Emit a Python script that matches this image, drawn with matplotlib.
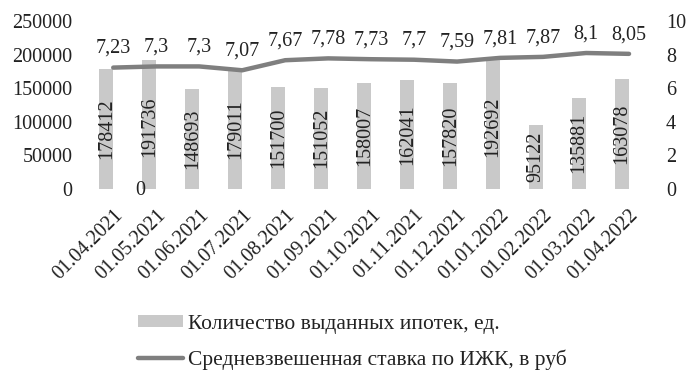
import matplotlib
matplotlib.use("Agg")
import matplotlib.pyplot as plt
import numpy as np

dates = ["01.04.2021", "01.05.2021", "01.06.2021", "01.07.2021", "01.08.2021",
         "01.09.2021", "01.10.2021", "01.11.2021", "01.12.2021", "01.01.2022",
         "01.02.2022", "01.03.2022", "01.04.2022"]
mortgages = [178412, 191736, 148693, 179011, 151700, 151052, 158007,
             162041, 157820, 192692, 95122, 135881, 163078]
rates = [7.23, 7.3, 7.3, 7.07, 7.67, 7.78, 7.73, 7.7, 7.59, 7.81, 7.87, 8.1, 8.05]
rate_labels = ["7,23", "7,3", "7,3", "7,07", "7,67", "7,78", "7,73", "7,7",
               "7,59", "7,81", "7,87", "8,1", "8,05"]

plt.rcParams['font.family'] = ['Liberation Serif', 'DejaVu Serif']
FS = 14.5
LFS = 15.5
bar_color = "#c9c9c9"
line_color = "#7f7f7f"

fig = plt.figure(figsize=(6.95, 3.71), dpi=100)
ax = fig.add_axes([0.132, 0.491, 0.804, 0.452])
ax2 = ax.twinx()

x = np.arange(len(dates))
bw = 0.32
bars = ax.bar(x - bw / 2, mortgages, width=bw, color=bar_color,
              label="Количество выданных ипотек, ед.", zorder=1)
for xi, v in zip(x, mortgages):
    ax.text(xi - bw / 2, min(v * 0.5, 92000), str(v), rotation=90,
            ha="center", va="center", fontsize=FS, color="#222222")
ax.text(0.63, -3000, "0", ha="center", va="center", fontsize=FS, color="#222222")

ax.set_ylim(0, 250000)
ax.set_xlim(-0.5, len(dates) - 0.5)
ax.set_yticks(np.arange(0, 250001, 50000))
ax.set_xticks(x)
ax.set_xticklabels(dates, rotation=45, ha="right", rotation_mode="anchor")
ax.tick_params(axis="both", length=0, labelsize=FS, colors="#222222")
ax.tick_params(axis="y", pad=14)
ax.tick_params(axis="x", pad=12)

line, = ax2.plot(x, rates, color=line_color, lw=3.2, solid_capstyle="round",
                 label="Средневзвешенная ставка по ИЖК, в руб", zorder=3)
for xi, r, lab in zip(x, rates, rate_labels):
    ax2.annotate(lab, (xi, r), xytext=(0, 7), textcoords="offset points",
                 ha="center", va="bottom", fontsize=FS, color="#222222")
ax2.set_ylim(0, 10)
ax2.set_yticks(np.arange(0, 11, 2))
ax2.tick_params(axis="y", length=0, labelsize=FS, colors="#222222", pad=11)

for a in (ax, ax2):
    for s in a.spines.values():
        s.set_visible(False)

fig.legend(handles=[bars, line], loc="upper left",
           bbox_to_anchor=(138 / 695, 1 - 315 / 371), frameon=False,
           fontsize=LFS, handlelength=2.1, handletextpad=0.23,
           handleheight=0.5, labelspacing=0.72, borderaxespad=0, borderpad=0,
           labelcolor="#222222")

fig.savefig("out.png", dpi=100)
